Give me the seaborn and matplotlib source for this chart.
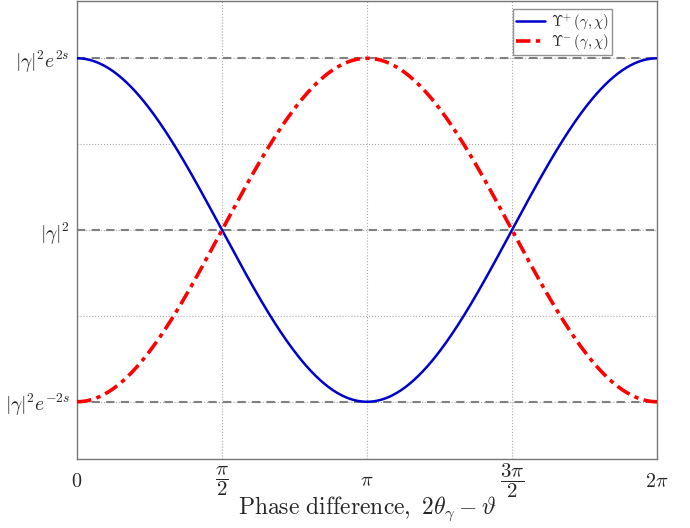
import numpy as np
import pandas as pd
import matplotlib
matplotlib.use("Agg")
import matplotlib.pyplot as plt
import seaborn as sns

sns.set_style("white")
plt.rcParams["mathtext.fontset"] = "cm"
plt.rcParams["font.family"] = ["DejaVu Serif"]

# Phase axis and the two normalised quadrature curves
phase = np.linspace(0, 2 * np.pi, 400)
upsilon_plus = np.cos(phase)
upsilon_minus = -np.cos(phase)

x_ticks = [0, np.pi / 2, np.pi, 3 * np.pi / 2, 2 * np.pi]
x_labels = [r"$0$", r"$\dfrac{\pi}{2}$", r"$\pi$", r"$\dfrac{3\pi}{2}$", r"$2\pi$"]
y_ticks = [-1, -0.5, 0, 0.5, 1]
y_labels = [r"$|\gamma|^2e^{-2s}$", "", r"$|\gamma|^2$", "", r"$|\gamma|^2e^{2s}$"]
ref_levels = [-1, 0, 1]

df = pd.DataFrame({"phase": phase, "plus": upsilon_plus, "minus": upsilon_minus})

fig = plt.figure(figsize=(6.9, 5.28), dpi=100)
ax = fig.add_axes([0.1116, 0.1307, 0.8406, 0.8673])

for lvl in ref_levels:
    ax.axhline(lvl, color="#808080", linestyle=(0, (4, 3)), linewidth=1.5, zorder=1)

sns.lineplot(data=df, x="phase", y="plus", ax=ax, color="#0000CC", linewidth=1.8,
             label=r"$\Upsilon^{+}\,(\gamma,\chi)$", zorder=3)
sns.lineplot(data=df, x="phase", y="minus", ax=ax, color="#FF0000", linewidth=2.6,
             linestyle=(0, (4, 1.5, 1.2, 1.5)), label=r"$\Upsilon^{-}\,(\gamma,\chi)$", zorder=3)

ax.set_xlim(0, 2 * np.pi)
ax.set_ylim(-4 / 3, 4 / 3)
ax.set_xticks(x_ticks)
ax.set_xticklabels(x_labels, fontsize=14.5)
for lab in ax.get_xticklabels():
    lab.set_verticalalignment("center")
    if "frac" in lab.get_text():
        lab.set_fontsize(15)
ax.set_yticks(y_ticks)
ax.set_yticklabels(y_labels, fontsize=14)
ax.grid(True, color="#aaaaaa", linestyle=":", linewidth=0.8)
ax.tick_params(direction="in", length=4, color="#777777")
ax.tick_params(axis="x", pad=16)
ax.tick_params(axis="y", pad=5)
for sp in ax.spines.values():
    sp.set_color("#777777")
    sp.set_linewidth(1.0)

ax.set_xlabel(r"$\mathrm{Phase\ difference,}\ 2\theta_\gamma - \vartheta$", fontsize=17)
ax.xaxis.set_label_coords(0.5, -0.108)
ax.xaxis.label.set_verticalalignment("center")
ax.set_ylabel("")

leg = ax.legend(loc="upper right", bbox_to_anchor=(0.923, 0.983), fontsize=10.5,
                frameon=True, fancybox=False, edgecolor="#777777", borderaxespad=0.0,
                handlelength=2.0, borderpad=0.2, labelspacing=0.05, handletextpad=0.4)
leg.get_frame().set_linewidth(1.0)

fig.savefig("out.png", dpi=100)
